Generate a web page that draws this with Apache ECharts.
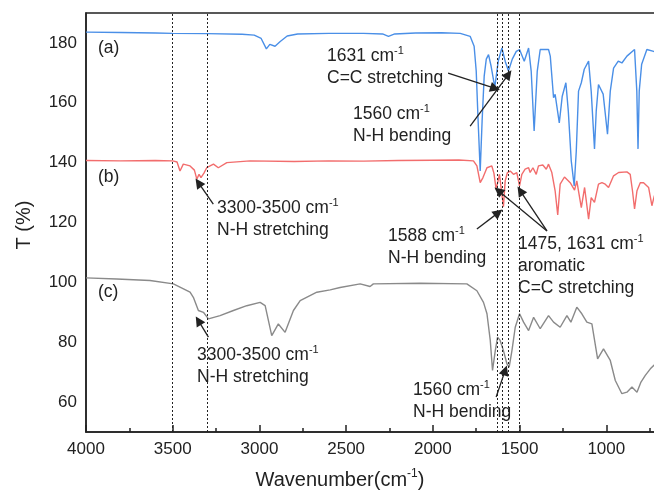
<!DOCTYPE html>
<html>
<head>
<meta charset="utf-8">
<script src="https://cdn.jsdelivr.net/npm/echarts@6/dist/echarts.min.js"></script>
<style>
  html, body { margin: 0; padding: 0; background: #fff; }
  #main { width: 654px; height: 493px; }
</style>
</head>
<body>
<div id="main"></div>
<script>
// spectra: wavenumber (cm-1) and transmittance (%)
const blueWn = [4000, 3800, 3600, 3500, 3300, 3100, 3030, 2990, 2960, 2940, 2910, 2880, 2840, 2780, 2600, 2400, 2290, 2256, 2220, 2100, 1950, 1842, 1785, 1762, 1750, 1739, 1727, 1716, 1704, 1692, 1679, 1664, 1643, 1623, 1602, 1583, 1564, 1542, 1519, 1500, 1473, 1448, 1433, 1416, 1398, 1381, 1333, 1323, 1304, 1295, 1271, 1254, 1233, 1219, 1202, 1185, 1173, 1160, 1144, 1127, 1102, 1087, 1068, 1058, 1045, 1018, 993, 977, 958, 931, 910, 881, 837, 824, 817, 810, 796, 766, 727, 700];
const blueT = [183.6, 183.5, 183.3, 183.2, 183.1, 182.9, 182.6, 181.5, 178.0, 179.5, 178.9, 180.5, 182.3, 183.0, 183.2, 183.2, 183.0, 182.2, 183.0, 183.3, 183.4, 183.2, 182.2, 178.9, 170.6, 153.9, 137.2, 153.9, 168.9, 174.6, 176.1, 172.2, 165.2, 173.9, 178.3, 173.9, 170.6, 174.6, 177.2, 177.8, 173.9, 178.3, 170.6, 150.6, 170.6, 177.8, 177.8, 175.6, 161.7, 162.8, 153.3, 162.2, 166.7, 157.2, 140.6, 132.2, 143.9, 163.9, 166.7, 171.2, 173.9, 163.9, 144.6, 157.2, 166.1, 162.9, 149.5, 163.9, 171.6, 173.9, 173.3, 175.6, 177.8, 163.9, 144.6, 163.9, 172.9, 177.8, 177.2, 176.5];

const redWn = [4000, 3800, 3600, 3500, 3475, 3458, 3439, 3400, 3375, 3361, 3348, 3337, 3320, 3304, 3265, 3237, 3188, 3054, 2800, 2600, 2400, 2200, 2000, 1850, 1766, 1746, 1727, 1711, 1688, 1660, 1648, 1635, 1616, 1608, 1593, 1583, 1570, 1554, 1535, 1516, 1500, 1487, 1468, 1448, 1439, 1423, 1404, 1391, 1366, 1346, 1333, 1314, 1295, 1280, 1266, 1241, 1208, 1183, 1170, 1144, 1125, 1102, 1087, 1068, 1045, 1025, 1006, 987, 958, 929, 881, 862, 849, 837, 823, 804, 785, 756, 737, 723, 700];
const redT = [140.7, 140.6, 140.7, 140.6, 140.2, 137.2, 139.5, 138.9, 137.5, 134.5, 136.1, 135.0, 136.5, 138.3, 139.5, 138.3, 140.0, 140.6, 140.4, 140.6, 140.5, 140.7, 140.8, 140.9, 140.6, 138.9, 133.3, 135.0, 138.3, 138.9, 136.5, 131.1, 136.1, 135.6, 125.3, 133.9, 136.7, 137.2, 136.1, 136.7, 132.2, 136.1, 137.8, 138.3, 136.7, 138.3, 136.1, 138.9, 139.2, 137.8, 139.5, 136.7, 130.6, 122.5, 132.8, 135.2, 133.3, 130.8, 133.9, 125.0, 131.7, 121.1, 128.3, 126.7, 132.8, 133.3, 132.8, 131.7, 135.6, 136.7, 136.9, 136.1, 130.6, 124.5, 130.6, 133.3, 133.3, 131.7, 125.6, 128.9, 130.0];

const grayWn = [4000, 3823, 3631, 3496, 3400, 3381, 3352, 3323, 3294, 3227, 3150, 3073, 2996, 2967, 2929, 2891, 2852, 2804, 2765, 2669, 2592, 2535, 2419, 2362, 2343, 2073, 1804, 1746, 1708, 1688, 1669, 1656, 1640, 1627, 1612, 1593, 1573, 1560, 1544, 1525, 1500, 1477, 1448, 1419, 1381, 1333, 1304, 1266, 1227, 1204, 1170, 1141, 1112, 1083, 1050, 1016, 977, 948, 910, 881, 852, 823, 800, 775, 746, 727, 700];
const grayT = [101.5, 101.1, 100.6, 99.5, 96.7, 95.0, 90.6, 90.0, 87.8, 88.9, 90.6, 92.2, 93.3, 92.2, 82.2, 86.1, 83.3, 90.6, 93.9, 96.7, 97.5, 98.3, 99.5, 98.6, 99.5, 99.7, 99.5, 97.2, 93.3, 89.5, 80.6, 70.6, 77.2, 81.7, 80.6, 77.2, 72.8, 71.7, 77.2, 85.0, 89.5, 86.7, 83.9, 88.3, 84.5, 88.9, 86.7, 85.0, 88.9, 86.7, 91.7, 89.5, 86.7, 86.1, 74.4, 77.8, 73.9, 67.2, 62.8, 63.3, 65.0, 63.3, 66.7, 68.9, 71.1, 72.2, 73.5];

// dotted reference lines (cm-1)
const guideWn = [3500, 3300, 1631, 1597, 1565, 1503];

// annotation arrows: [fromWn, fromT, toWn, toT]
const arrows = [
  [1912, 169.9, 1641, 164.8],
  [1785, 152.2, 1564, 169.5],
  [3266, 126.1, 3352, 133.3],
  [1746, 117.8, 1622, 123.3],
  [1342, 117.2, 1622, 130.6],
  [1342, 117.2, 1496, 130.6],
  [3294, 81.7, 3352, 87.2],
  [1635, 61.7, 1583, 70.6]
];

const zip = (a, b) => a.map((x, i) => [x, b[i]]);

const chart = echarts.init(document.getElementById('main'));
const FONT = 'Liberation Sans, Arial, sans-serif';
const rich = {
  n: { fontSize: 17.5, lineHeight: 22, fontFamily: FONT, fill: '#222' },
  s: { fontSize: 11, lineHeight: 11, verticalAlign: 'top', fontFamily: FONT, fill: '#222' }
};

function note(x, y, text) {
  return {
    type: 'text', left: x, top: y, silent: true,
    style: { text: text, rich: rich, fontSize: 17.5, lineHeight: 22, fontFamily: FONT, fill: '#222' }
  };
}

const option = {
  animation: false,
  grid: {
    left: 86, top: 13, right: -39, bottom: 61, outerBoundsMode: 'none', containLabel: false,
    show: true, borderColor: '#222', borderWidth: 1.5
  },
  xAxis: {
    type: 'value', inverse: true, min: 500, max: 4000, interval: 500,
    axisLine: { lineStyle: { color: '#222', width: 1.5 } },
    axisTick: { inside: true, length: 7, lineStyle: { color: '#222', width: 1.5 } },
    minorTick: { show: true, splitNumber: 2, length: 4, lineStyle: { color: '#222', width: 1.5 } },
    splitLine: { show: false },
    axisLabel: { color: '#222', fontSize: 17, fontFamily: FONT, margin: 9, formatter: v => String(v) }
  },
  yAxis: {
    type: 'value', min: 50, max: 190, interval: 10,
    axisLine: { show: true, lineStyle: { color: '#222', width: 1.5 } },
    axisTick: { show: false },
    splitLine: { show: false },
    axisLabel: {
      color: '#222', fontSize: 17, fontFamily: FONT, margin: 9,
      formatter: v => (v % 20 === 0 && v >= 60 && v <= 180) ? String(v) : ''
    }
  },
  series: [
    {
      type: 'line', data: zip(blueWn, blueT), showSymbol: false, silent: true,
      lineStyle: { color: '#4a8fe7', width: 1.4 },
      markLine: {
        silent: true, symbol: 'none', label: { show: false },
        lineStyle: { color: '#222', width: 1, type: [2, 2] },
        data: guideWn.map(w => ({ xAxis: w }))
      }
    },
    {
      type: 'line', data: zip(redWn, redT), showSymbol: false, silent: true,
      lineStyle: { color: '#f26d6d', width: 1.4 }
    },
    {
      type: 'line', data: zip(grayWn, grayT), showSymbol: false, silent: true,
      lineStyle: { color: '#8a8a8a', width: 1.4 },
      markLine: {
        silent: true, symbol: ['none', 'triangle'], symbolSize: 10, label: { show: false },
        itemStyle: { color: '#222' },
        lineStyle: { color: '#222', width: 1.3, type: 'solid' },
        data: arrows.map(a => [
          { coord: [a[0], a[1]], symbol: 'none' },
          { coord: [a[2], a[3]], symbol: 'triangle', symbolSize: 10 }
        ])
      }
    }
  ],
  graphic: [
    note(98, 37, '(a)'),
    note(98, 166, '(b)'),
    note(98, 281, '(c)'),
    note(327, 45, '{n|1631 cm}{s|-1}\n{n|C=C stretching}'),
    note(353, 103, '{n|1560 cm}{s|-1}\n{n|N-H bending}'),
    note(217, 197, '{n|3300-3500 cm}{s|-1}\n{n|N-H stretching}'),
    note(388, 225, '{n|1588 cm}{s|-1}\n{n|N-H bending}'),
    note(518, 233, '{n|1475, 1631 cm}{s|-1}\n{n|aromatic}\n{n|C=C stretching}'),
    note(197, 344, '{n|3300-3500 cm}{s|-1}\n{n|N-H stretching}'),
    note(413, 379, '{n|1560 cm}{s|-1}\n{n|N-H bending}'),
    {
      type: 'text', x: 340, y: 480, silent: true,
      style: {
        text: '{t|Wavenumber(cm}{u|-1}{t|)}', align: 'center', verticalAlign: 'middle',
        rich: {
          t: { fontSize: 20, lineHeight: 24, fontFamily: FONT, fill: '#222' },
          u: { fontSize: 12, lineHeight: 12, verticalAlign: 'top', fontFamily: FONT, fill: '#222' }
        }
      }
    },
    {
      type: 'text', x: 24, y: 225, rotation: Math.PI / 2, silent: true,
      style: { text: 'T (%)', align: 'center', verticalAlign: 'middle', fontSize: 20, fontFamily: FONT, fill: '#222' }
    }
  ]
};
chart.setOption(option);
</script>
</body>
</html>
